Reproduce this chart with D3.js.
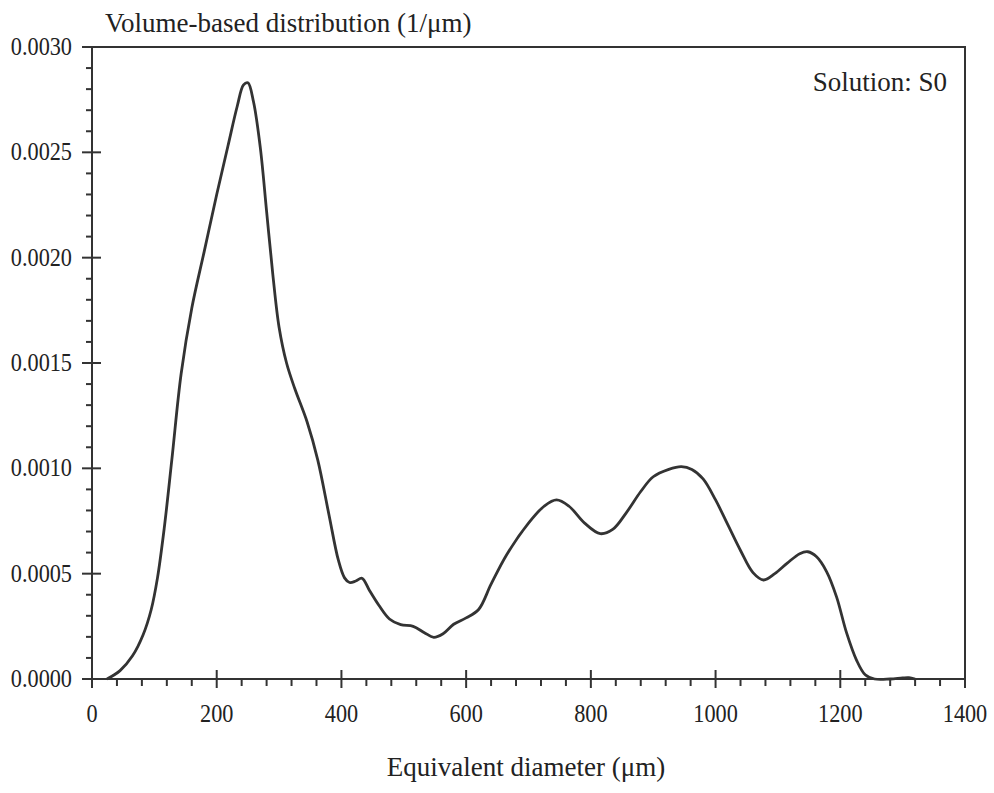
<!DOCTYPE html>
<html>
<head>
<meta charset="utf-8">
<script src="https://cdn.jsdelivr.net/npm/d3@7/dist/d3.min.js"></script>
<style>
  html, body { margin: 0; padding: 0; background: #fff; }
  svg { display: block; }
  text { font-family: "Liberation Serif", "Times New Roman", serif; fill: #222; }
</style>
</head>
<body>
<svg id="chart" width="994" height="793"></svg>
<script>
// ---- data ----
const diameter = [24, 45, 65, 82, 95, 105, 116, 128, 143, 160, 180, 200, 218, 233, 243, 250, 259, 270, 280, 290, 300, 312, 325, 345, 362, 380, 395, 405, 413, 423, 433, 445, 460, 477, 495, 515, 533, 548, 563, 580, 600, 620, 640, 665, 700, 725, 745, 765, 790, 815, 835, 857, 880, 900, 925, 945, 962, 980, 1000, 1020, 1040, 1060, 1077, 1095, 1115, 1135, 1148, 1162, 1178, 1194, 1210, 1226, 1240, 1255, 1280, 1300, 1310, 1320];
const distribution = [0, 0.00004, 0.00011, 0.00021, 0.00033, 0.00048, 0.00072, 0.00104, 0.00145, 0.00176, 0.00203, 0.0023, 0.00253, 0.00272, 0.00282, 0.00283, 0.00274, 0.00252, 0.00222, 0.00192, 0.00167, 0.0015, 0.00138, 0.00122, 0.00104, 0.00078, 0.000565, 0.00048, 0.000458, 0.000465, 0.000478, 0.00042, 0.00035, 0.000285, 0.000258, 0.00025, 0.00022, 0.000198, 0.000215, 0.00026, 0.00029, 0.00033, 0.00045, 0.00059, 0.00074, 0.00082, 0.00085, 0.00082, 0.00074, 0.00069, 0.00071, 0.00079, 0.00089, 0.00096, 0.000995, 0.001008, 0.000995, 0.00095, 0.00085, 0.00073, 0.00061, 0.000505, 0.00047, 0.0005, 0.00055, 0.000595, 0.000604, 0.00058, 0.00051, 0.00039, 0.00022, 0.00009, 0.00002, 0, 0, 0.000005, 0.000006, 0];
const xTicks = [0, 200, 400, 600, 800, 1000, 1200, 1400];
const yTicks = [0, 0.0005, 0.001, 0.0015, 0.002, 0.0025, 0.003];
const yTickLabels = ["0.0000", "0.0005", "0.0010", "0.0015", "0.0020", "0.0025", "0.0030"];
const titleText = "Volume-based distribution (1/\u03bcm)";
const xLabelText = "Equivalent diameter (\u03bcm)";
const legendText = "Solution: S0";

// ---- layout ----
const svg = d3.select("#chart");
const L = 92, R = 965, T = 47, B = 679;
const x = d3.scaleLinear().domain([0, 1400]).range([L, R]);
const y = d3.scaleLinear().domain([0, 0.003]).range([B, T]);
const ink = "#333";

// frame
svg.append("path")
  .attr("d", `M${L},${B}H${R}V${T}H${L}Z`)
  .attr("fill", "none").attr("stroke", ink).attr("stroke-width", 2);

// x ticks
const xMinor = d3.range(0, 1400 + 1, 40).filter(v => v % 200 !== 0);
svg.append("g").selectAll("line").data(xMinor).join("line")
  .attr("x1", d => x(d)).attr("x2", d => x(d))
  .attr("y1", B).attr("y2", B + 7)
  .attr("stroke", ink).attr("stroke-width", 2);
svg.append("g").selectAll("line").data(xTicks).join("line")
  .attr("x1", d => x(d)).attr("x2", d => x(d))
  .attr("y1", B - 9).attr("y2", B + 9)
  .attr("stroke", ink).attr("stroke-width", 2);
svg.append("g").selectAll("text").data(xTicks).join("text")
  .attr("transform", d => `translate(${x(d)},${722}) scale(0.89,1)`)
  .attr("text-anchor", "middle")
  .attr("font-size", 25)
  .text(d => d);

// y ticks
const yMinor = d3.range(0, 31).map(i => i * 0.0001).filter((v, i) => i % 5 !== 0);
svg.append("g").selectAll("line").data(yMinor).join("line")
  .attr("x1", L - 6).attr("x2", L)
  .attr("y1", d => y(d)).attr("y2", d => y(d))
  .attr("stroke", ink).attr("stroke-width", 2);
svg.append("g").selectAll("line").data(yTicks).join("line")
  .attr("x1", L - 10).attr("x2", L + 9)
  .attr("y1", d => y(d)).attr("y2", d => y(d))
  .attr("stroke", ink).attr("stroke-width", 2);
svg.append("g").selectAll("text").data(yTicks).join("text")
  .attr("transform", d => `translate(${72},${y(d) + 8}) scale(0.89,1)`)
  .attr("text-anchor", "end")
  .attr("font-size", 25)
  .text((d, i) => yTickLabels[i]);

// curve
const pts = diameter.map((d, i) => [d, distribution[i]]);
const line = d3.line().x(d => x(d[0])).y(d => y(d[1])).curve(d3.curveCatmullRom.alpha(0.5));
svg.append("path").datum(pts)
  .attr("d", line)
  .attr("fill", "none").attr("stroke", ink).attr("stroke-width", 2.8)
  .attr("stroke-linejoin", "round");

// texts
svg.append("text").attr("x", 105).attr("y", 32).attr("font-size", 27).text(titleText);
svg.append("text").attr("x", 526).attr("y", 776).attr("text-anchor", "middle").attr("font-size", 27).text(xLabelText);
svg.append("text").attr("x", 947).attr("y", 91).attr("text-anchor", "end").attr("font-size", 27).text(legendText);
</script>
</body>
</html>
